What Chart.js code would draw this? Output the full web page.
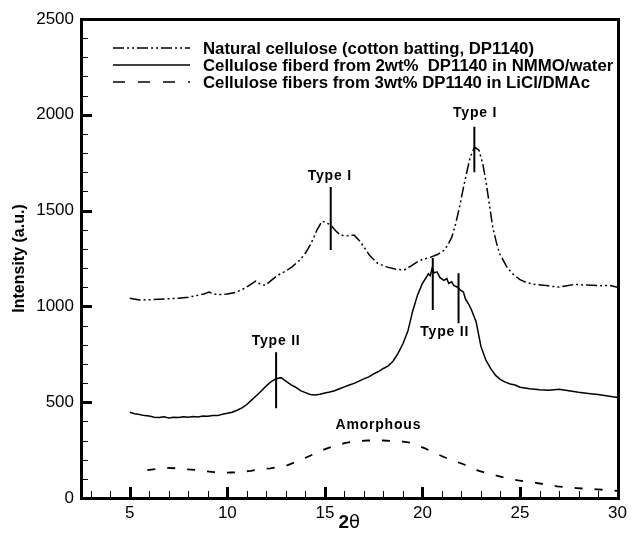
<!DOCTYPE html>
<html>
<head>
<meta charset="utf-8">
<script src="https://cdn.jsdelivr.net/npm/chart.js@4.4.1/dist/chart.umd.min.js"></script>
<style>
  html, body { margin: 0; padding: 0; background: #fff; overflow: hidden; }
  #wrap { width: 632px; height: 535px; }
</style>
</head>
<body>
<div id="wrap"><canvas id="xrd"></canvas></div>
<script>
// series names (legend order)
const seriesNames = [
    "Natural cellulose (cotton batting, DP1140)",
    "Cellulose fiberd from 2wt%  DP1140 in NMMO/water",
    "Cellulose fibers from 3wt% DP1140 in LiCl/DMAc"
];

// natural cellulose
const naturalX = [5.0, 5.5, 6.0, 6.5, 7.0, 7.5, 8.0, 8.5, 8.8, 9.06, 9.3, 9.6, 10.0, 10.4, 10.9, 11.2, 11.45, 11.7, 11.95,
    12.3, 12.6, 13.0, 13.3, 13.7, 14.0, 14.3, 14.6, 14.85, 15.0, 15.3, 15.55, 15.8, 16.1, 16.5, 16.8, 17.0, 17.3, 17.7,
    18.2, 18.6, 19.06, 19.4, 19.7, 20.0, 20.4, 20.8, 21.1, 21.3, 21.5, 21.7, 21.9, 22.1, 22.26, 22.45, 22.67, 22.9,
    23.1, 23.27, 23.45, 23.6, 23.8, 23.95, 24.3, 24.6, 25.0, 25.3, 25.7, 26.2, 26.6, 27.0, 27.4, 27.8, 28.2, 28.7,
    29.2, 29.6, 30.0];
const naturalY = [1043, 1033, 1035, 1037, 1040, 1043, 1048, 1058, 1065, 1075, 1064, 1062, 1065, 1072, 1095, 1115, 1132, 1115, 1110,
    1140, 1163, 1185, 1205, 1240, 1277, 1330, 1400, 1445, 1440, 1425, 1395, 1372, 1368, 1372, 1340, 1310, 1265, 1225,
    1205, 1195, 1190, 1210, 1230, 1245, 1256, 1272, 1292, 1320, 1360, 1430, 1518, 1620, 1695, 1780, 1831, 1815,
    1740, 1643, 1520, 1413, 1330, 1277, 1210, 1172, 1140, 1126, 1115, 1111, 1105, 1101, 1108, 1115, 1112, 1111,
    1108, 1110, 1100];

// NMMO/water fibers
const nmmoX = [5.0, 5.25, 5.5, 5.75, 6.0, 6.25, 6.5, 6.75, 7.0, 7.25, 7.5, 7.75, 8.0, 8.25, 8.5, 8.75, 9.0, 9.25, 9.5, 9.75,
    10.0, 10.25, 10.5, 10.75, 11.0, 11.25, 11.5, 11.75, 12.0, 12.25, 12.5, 12.75, 13.0, 13.25, 13.5, 13.75, 14.0, 14.25,
    14.5, 14.75, 15.0, 15.25, 15.5, 15.75, 16.0, 16.25, 16.5, 16.75, 17.0, 17.25, 17.5, 17.75, 18.0, 18.25, 18.5, 18.75,
    19.0, 19.25, 19.5, 19.75, 20.0, 20.2, 20.3, 20.4, 20.5, 20.6, 20.75, 20.9, 21.1, 21.25, 21.35, 21.5, 21.6, 21.8,
    21.95, 22.1, 22.2, 22.35, 22.5, 22.75, 23.0, 23.25,
    23.5, 23.75, 24.0, 24.25, 24.5, 24.75, 25.0, 25.5, 26.0, 26.5, 27.0, 27.5, 28.0, 28.5, 29.0, 29.5, 30.0];
const nmmoY = [448, 440, 436, 430, 428, 422, 420, 424, 418, 422, 420, 424, 421, 425, 423, 428, 427, 431, 430, 437,
    442, 448, 458, 470, 488, 512, 535, 560, 585, 608, 622, 628, 610, 592, 578, 560, 550, 540,
    538, 541, 548, 553, 560, 570, 580, 590, 598, 610, 622, 632, 648, 660, 676, 690, 715, 755,
    805, 870, 975, 1060, 1120, 1152, 1170, 1160, 1200, 1175, 1180, 1150, 1136, 1145, 1120, 1128, 1110, 1100,
    1085, 1075, 1040, 1015, 985, 920, 790, 720,
    675, 640, 618, 605, 595, 590, 578, 570, 565, 562, 567, 560, 552, 546, 540, 532, 525];

// LiCl/DMAc fibers (amorphous)
const dmacX = [5.9, 6.4, 6.9, 7.4, 7.9, 8.4, 8.9, 9.3, 9.7, 10.2, 10.7, 11.2, 11.75, 12.2, 12.7, 13.1, 13.5, 13.9, 14.3,
    14.7, 15.15, 15.6, 16.0, 16.4, 16.8, 17.2, 17.7, 18.0, 18.5, 19.0, 19.4, 19.8, 20.1, 20.6, 21.1, 21.6, 22.1, 22.5,
    22.9, 23.4, 23.95, 24.4, 24.9, 25.4, 25.9, 26.4, 26.9, 27.4, 27.9, 28.4, 28.96, 29.5, 30.0];
const dmacY = [145, 152, 157, 155, 150, 146, 140, 135, 131, 133, 136, 142, 150, 155, 162, 172, 188, 205, 223,
    243, 260, 275, 286, 293, 298, 300, 301, 300, 298, 294, 288, 273, 260, 237, 214, 195, 176, 158,
    141, 126, 113, 102, 92, 85, 78, 69, 61, 56, 52, 48, 45, 41, 37];

// peak marker lines and their labels
const markerX = [15.3, 22.66, 12.5, 20.53, 21.85];
const markerLow = [1294, 1700, 469, 981, 912];
const markerHigh = [1623, 1937, 761, 1253, 1173];
const labelText = ["Type I", "Type I", "Type II", "Type II", "Amorphous"];
const labelX = [15.25, 22.7, 12.5, 21.14, 17.74];
const labelY = [1680, 2010, 818, 867, 380];

// axis ticks
const xTickLabels = [5, 10, 15, 20, 25, 30];
const yTickLabels = [0, 500, 1000, 1500, 2000, 2500];

const FONT = "'Liberation Sans', Arial, sans-serif";
const pts = (xs, ys) => xs.map((x, i) => ({x: x, y: ys[i]}));

const datasets = [
    {label: seriesNames[0], data: pts(naturalX, naturalY), borderDash: [11, 3, 2, 3, 2, 3], borderWidth: 1.5},
    {label: seriesNames[1], data: pts(nmmoX, nmmoY), borderDash: [], borderWidth: 1.5},
    {label: seriesNames[2], data: pts(dmacX, dmacY), borderDash: [8, 12], borderWidth: 1.8}
];
markerX.forEach((mx, i) => {
    datasets.push({
        label: "marker",
        data: [{x: mx, y: markerLow[i]}, {x: mx, y: markerHigh[i]}],
        borderDash: [],
        borderWidth: 2
    });
});

// black frame with inward ticks, plus the x title
const frameTicks = {
    id: "frameTicks",
    afterDraw(chart) {
        const {ctx, chartArea: a, scales: {x, y}} = chart;
        const L = Math.round(a.left), R = Math.round(a.right);
        const T = Math.round(a.top), B = Math.round(a.bottom);
        ctx.save();
        ctx.fillStyle = "#000";
        // minor ticks
        for (let v = 3; v <= 29; v++) {
            if (v % 5 === 0) continue;
            ctx.fillRect(Math.round(x.getPixelForValue(v)), B - 7, 1, 7);
        }
        for (let v = 100; v < 2500; v += 100) {
            if (v % 500 === 0) continue;
            ctx.fillRect(L, Math.round(y.getPixelForValue(v)), 7, 1);
        }
        // major ticks
        xTickLabels.forEach(v => {
            ctx.fillRect(Math.round(x.getPixelForValue(v)) - 1, B - 11, 3, 11);
        });
        yTickLabels.forEach(v => {
            ctx.fillRect(L, Math.round(y.getPixelForValue(v)) - 1, 11, 3);
        });
        // frame
        ctx.fillRect(L - 1, T - 1, R - L + 3, 3);
        ctx.fillRect(L - 1, B - 1, R - L + 3, 3);
        ctx.fillRect(L - 1, T - 1, 3, B - T + 3);
        ctx.fillRect(R - 1, T - 1, 3, B - T + 3);

        // x title: bold 2, plain theta
        ctx.textBaseline = "middle";
        ctx.textAlign = "left";
        const cx = (a.left + a.right) / 2;
        ctx.font = "bold 19px " + FONT;
        const w2 = ctx.measureText("2").width;
        ctx.font = "18px 'DejaVu Sans', " + FONT;
        const wt = ctx.measureText("θ").width;
        const sx = cx - (w2 + wt) / 2;
        ctx.font = "bold 19px " + FONT;
        ctx.fillText("2", sx, 523);
        ctx.font = "18px 'DejaVu Sans', " + FONT;
        ctx.fillText("θ", sx + w2, 523);
        ctx.restore();
    }
};

// peak labels
const peakLabels = {
    id: "peakLabels",
    afterDraw(chart) {
        const {ctx, scales: {x, y}} = chart;
        ctx.save();
        ctx.fillStyle = "#000";
        ctx.font = "bold 14px " + FONT;
        ctx.letterSpacing = "0.8px";
        ctx.textAlign = "center";
        ctx.textBaseline = "middle";
        labelText.forEach((t, i) => {
            ctx.fillText(t, x.getPixelForValue(labelX[i]), y.getPixelForValue(labelY[i]));
        });
        ctx.restore();
    }
};

// legend drawn inside the plot
const innerLegend = {
    id: "innerLegend",
    afterDraw(chart) {
        const {ctx} = chart;
        ctx.save();
        ctx.font = "bold 16.8px " + FONT;
        ctx.fillStyle = "#000";
        ctx.strokeStyle = "#000";
        ctx.textBaseline = "middle";
        seriesNames.forEach((name, i) => {
            const ds = chart.data.datasets[i];
            const yy = 48 + i * 17;
            ctx.lineWidth = 1.5;
            ctx.setLineDash(i === 2 ? [12, 13] : ds.borderDash);
            ctx.beginPath();
            ctx.moveTo(113, yy); ctx.lineTo(190, yy);
            ctx.stroke();
            ctx.setLineDash([]);
            ctx.fillText(name, 203, yy + 1);
        });
        ctx.restore();
    }
};

new Chart(document.getElementById("xrd"), {
    type: "line",
    data: {datasets: datasets},
    options: {
        responsive: true,
        maintainAspectRatio: false,
        animation: false,
        layout: {padding: {top: 19, right: 9, left: 0, bottom: 0}},
        elements: {
            point: {radius: 0},
            line: {borderColor: "#000", tension: 0, fill: false}
        },
        plugins: {
            legend: {display: false},
            tooltip: {enabled: false}
        },
        scales: {
            x: {
                type: "linear",
                min: 2.5,
                max: 30,
                grid: {display: false, drawTicks: false},
                border: {display: false},
                afterBuildTicks: s => { s.ticks = xTickLabels.map(v => ({value: v})); },
                afterFit: s => { s.height = 37; },
                ticks: {
                    color: "#000",
                    padding: 5,
                    maxRotation: 0,
                    callback: v => String(v),
                    font: {family: FONT, size: 17}
                }
            },
            y: {
                min: 0,
                max: 2500,
                grid: {display: false, drawTicks: false},
                border: {display: false},
                afterBuildTicks: s => { s.ticks = yTickLabels.map(v => ({value: v})); },
                afterFit: s => { s.width = 81; },
                ticks: {
                    color: "#000",
                    padding: 7,
                    callback: v => String(v),
                    font: {family: FONT, size: 17}
                },
                title: {
                    display: true,
                    text: "Intensity (a.u.)",
                    color: "#000",
                    padding: {top: 10, bottom: 0},
                    font: {family: FONT, size: 16, weight: "bold"}
                }
            }
        }
    },
    plugins: [frameTicks, peakLabels, innerLegend]
});
</script>
</body>
</html>
